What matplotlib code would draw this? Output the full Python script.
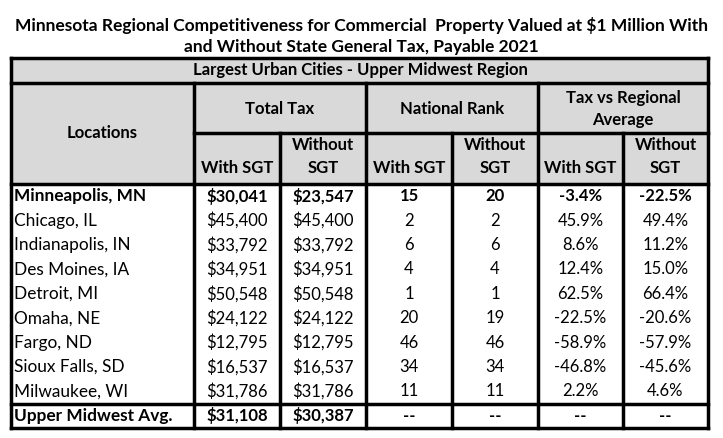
import matplotlib.pyplot as plt

title_lines = ["Minnesota Regional Competitiveness for Commercial  Property Valued at $1 Million With",
               "and Without State General Tax, Payable 2021"]
band_title = "Largest Urban Cities - Upper Midwest Region"
group_labels = ["Total Tax", "National Rank", "Tax vs Regional\nAverage"]
sub_labels = ["With SGT", "Without\nSGT"] * 3

locations = ["Minneapolis, MN", "Chicago, IL", "Indianapolis, IN", "Des Moines, IA", "Detroit, MI",
             "Omaha, NE", "Fargo, ND", "Sioux Falls, SD", "Milwaukee, WI", "Upper Midwest Avg."]
tax_with = ["$30,041", "$45,400", "$33,792", "$34,951", "$50,548", "$24,122", "$12,795", "$16,537", "$31,786", "$31,108"]
tax_without = ["$23,547", "$45,400", "$33,792", "$34,951", "$50,548", "$24,122", "$12,795", "$16,537", "$31,786", "$30,387"]
rank_with = ["15", "2", "6", "4", "1", "20", "46", "34", "11", "--"]
rank_without = ["20", "2", "6", "4", "1", "19", "46", "34", "11", "--"]
pct_with = ["-3.4%", "45.9%", "8.6%", "12.4%", "62.5%", "-22.5%", "-58.9%", "-46.8%", "2.2%", "--"]
pct_without = ["-22.5%", "49.4%", "11.2%", "15.0%", "66.4%", "-20.6%", "-57.9%", "-45.6%", "4.6%", "--"]
bold_rows = [0, 9]

plt.rcParams['font.family'] = ['Lato', 'DejaVu Sans']

W, H = 723, 438
fig = plt.figure(figsize=(W / 100, H / 100), dpi=100)
ax = fig.add_axes([0, 0, 1, 1])
ax.set_xlim(0, W)
ax.set_ylim(H, 0)
ax.axis('off')

# layout in pixels
xs = [11, 194, 280, 366, 452, 538, 623, 708]
y_top, y_band, y_grp, y_head = 58, 83, 133, 184
row_h = 24.4
y_last = y_head + 9 * row_h
y_bot = 428
fs = 12
grey = '#d9d9d9'
lw_thick = 2.5

# title
ax.text(W / 2, 25, title_lines[0], ha='center', va='center', fontsize=12.5, fontweight='bold')
ax.text(W / 2, 47, title_lines[1], ha='center', va='center', fontsize=12.5, fontweight='bold')

# header fill
ax.fill_between([xs[0], xs[-1]], y_top, y_head, color=grey, lw=0)

# header text
ax.text(W / 2 - 1, (y_top + y_band) / 2, band_title, ha='center', va='center', fontsize=fs, fontweight='bold')
ax.text((xs[0] + xs[1]) / 2, (y_band + y_head) / 2, "Locations", ha='center', va='center', fontsize=fs, fontweight='bold')
for i, lab in enumerate(group_labels):
    x0, x1 = xs[1 + 2 * i], xs[3 + 2 * i]
    ax.text((x0 + x1) / 2, (y_band + y_grp) / 2 + 1, lab, ha='center', va='center', fontsize=fs,
            fontweight='bold', linespacing=1.5)
for i, lab in enumerate(sub_labels):
    x0, x1 = xs[1 + i], xs[2 + i]
    ax.text((x0 + x1) / 2, y_head - 8, lab, ha='center', va='bottom', fontsize=fs,
            fontweight='bold', linespacing=1.5)

# body
cols = [tax_with, tax_without, rank_with, rank_without, pct_with, pct_without]
for r, loc in enumerate(locations):
    if r < 9:
        yc = y_head + (r + 0.5) * row_h
    else:
        yc = (y_last + y_bot) / 2
    w = 'bold' if r in bold_rows else 'normal'
    ax.text(xs[0] + 3, yc, loc, ha='left', va='center', fontsize=fs + 0.4, fontweight=w)
    for c, col in enumerate(cols):
        ax.text((xs[1 + c] + xs[2 + c]) / 2, yc, col[r], ha='center', va='center', fontsize=fs, fontweight=w)

# grid lines
for y in [y_top, y_band, y_head, y_last, y_bot]:
    ax.plot([xs[0], xs[-1]], [y, y], color='black', lw=lw_thick, solid_capstyle='projecting')
ax.plot([xs[1], xs[-1]], [y_grp, y_grp], color='black', lw=lw_thick)
for x in [xs[0], xs[-1]]:
    ax.plot([x, x], [y_top, y_bot], color='black', lw=lw_thick, solid_capstyle='projecting')
for x in [xs[1], xs[3], xs[5]]:
    ax.plot([x, x], [y_band, y_bot], color='black', lw=lw_thick)
for x in [xs[2], xs[4], xs[6]]:
    ax.plot([x, x], [y_grp, y_bot], color='black', lw=lw_thick)

fig.savefig('out.png', dpi=100)
